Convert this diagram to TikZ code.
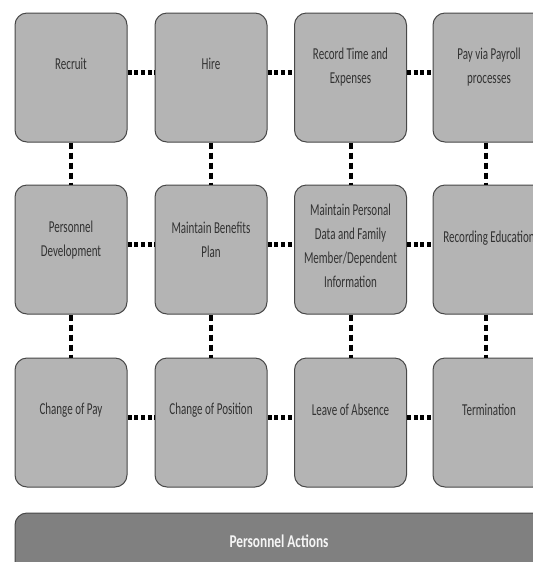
\documentclass[tikz,border=0pt]{standalone}
\usepackage{fontspec}
\setmainfont{Carlito}
\newfontfamily\boxfont[FakeStretch=0.66]{Carlito}
\newfontfamily\barfont[FakeStretch=0.74]{Carlito}
\definecolor{boxgray}{RGB}{180,180,180}
\definecolor{bargray}{RGB}{128,128,128}
\definecolor{edgegray}{RGB}{72,72,72}
\definecolor{textgray}{RGB}{50,50,50}
\tikzset{every picture/.style={line width=0.75pt}}
\tikzset{
  box/.style={draw=edgegray, fill=boxgray, rounded corners=9pt, minimum width=84pt, minimum height=96.75pt, inner sep=0pt},
  txt/.style={inner sep=0.75pt, align=center, text=textgray, font=\boxfont\fontsize{12.5}{18}\selectfont},
  hlink/.style={line width=4pt, dash pattern=on 3pt off 2pt},
  vlink/.style={line width=3pt, dash pattern=on 4.5pt off 3pt}
}

\begin{document}
\begin{tikzpicture}[x=0.75pt,y=0.75pt,yscale=-1,xscale=1]
%set diagram left start at 0, and has height of 562
\useasboundingbox (0,0) rectangle (533,562);

%Rounded Rect: row 1
\draw (71,77.5) node [box] (recruit) {};
\draw (211,77.5) node [box] (hire) {};
\draw (350.5,77.5) node [box] (recordtime) {};
\draw (489,77.5) node [box] (payroll) {};
%Rounded Rect: row 2
\draw (71,249.5) node [box] (persdev) {};
\draw (211,249.5) node [box] (benefits) {};
\draw (350.5,249.5) node [box] (persdata) {};
\draw (489,249.5) node [box] (education) {};
%Rounded Rect: row 3
\draw (71,422.5) node [box] (changepay) {};
\draw (211,422.5) node [box] (changepos) {};
\draw (350.5,422.5) node [box] (absence) {};
\draw (489,422.5) node [box] (termination) {};
%Rounded Rect: bottom bar
\draw (280,543) node [draw=edgegray, fill=bargray, rounded corners=9pt, minimum width=397.5pt, minimum height=45pt, inner sep=0pt] (actions) {};

%Dotted Lines: horizontal
\draw [hlink] ([yshift=-3.75pt]recruit.east) -- ([yshift=-3.75pt]hire.west);
\draw [hlink] ([yshift=-3.75pt]hire.east) -- ([yshift=-3.75pt]recordtime.west);
\draw [hlink] ([yshift=-3.75pt]recordtime.east) -- ([yshift=-3.75pt]payroll.west);
\draw [hlink] ([yshift=-3.75pt]persdev.east) -- ([yshift=-3.75pt]benefits.west);
\draw [hlink] ([yshift=-3.75pt]benefits.east) -- ([yshift=-3.75pt]persdata.west);
\draw [hlink] ([yshift=-3.75pt]persdata.east) -- ([yshift=-3.75pt]education.west);
\draw [hlink] ([yshift=-3.75pt]changepay.east) -- ([yshift=-3.75pt]changepos.west);
\draw [hlink] ([yshift=-3.75pt]changepos.east) -- ([yshift=-3.75pt]absence.west);
\draw [hlink] ([yshift=-3.75pt]absence.east) -- ([yshift=-3.75pt]termination.west);
%Dotted Lines: vertical
\draw [vlink] (recruit.south) -- (persdev.north);
\draw [vlink] (hire.south) -- (benefits.north);
\draw [vlink] (recordtime.south) -- (persdata.north);
\draw [vlink] ([xshift=-2.25pt]payroll.south) -- ([xshift=-2.25pt]education.north);
\draw [vlink] (persdev.south) -- (changepay.north);
\draw [vlink] (benefits.south) -- (changepos.north);
\draw [vlink] (persdata.south) -- (absence.north);
\draw [vlink] ([xshift=-2.25pt]education.south) -- ([xshift=-2.25pt]termination.north);

% Text Node
\draw (71,64) node [txt] (recruit-t) {Recruit};
% Text Node
\draw (211,64) node [txt] (hire-t) {Hire};
% Text Node
\draw (350.5,67.5) node [txt] (recordtime-t) {Record Time and\\Expenses};
% Text Node
\draw (489,67.5) node [txt] (payroll-t) {Pay via Payroll\\processes};
% Text Node
\draw (71,240) node [txt] (persdev-t) {Personnel\\Development};
% Text Node
\draw (211,240) node [txt] (benefits-t) {Maintain Benefits\\Plan};
% Text Node
\draw (350.5,246) node [txt] (persdata-t) {Maintain Personal\\Data and Family\\Member/Dependent\\Information};
% Text Node
\draw (489,238) node [txt] (education-t) {Recording Education};
% Text Node
\draw (71,410) node [txt] (changepay-t) {Change of Pay};
% Text Node
\draw (211,410) node [txt] (changepos-t) {Change of Position};
% Text Node
\draw (350.5,410) node [txt] (absence-t) {Leave of Absence};
% Text Node
\draw (489,410) node [txt] (termination-t) {Termination};
% Text Node
\draw (279,541) node [inner sep=0.75pt, text={rgb, 255:red, 245; green, 245; blue, 245}, font=\barfont\bfseries\fontsize{13.5}{16}\selectfont] (actions-t) {Personnel Actions};

\end{tikzpicture}
\end{document}
